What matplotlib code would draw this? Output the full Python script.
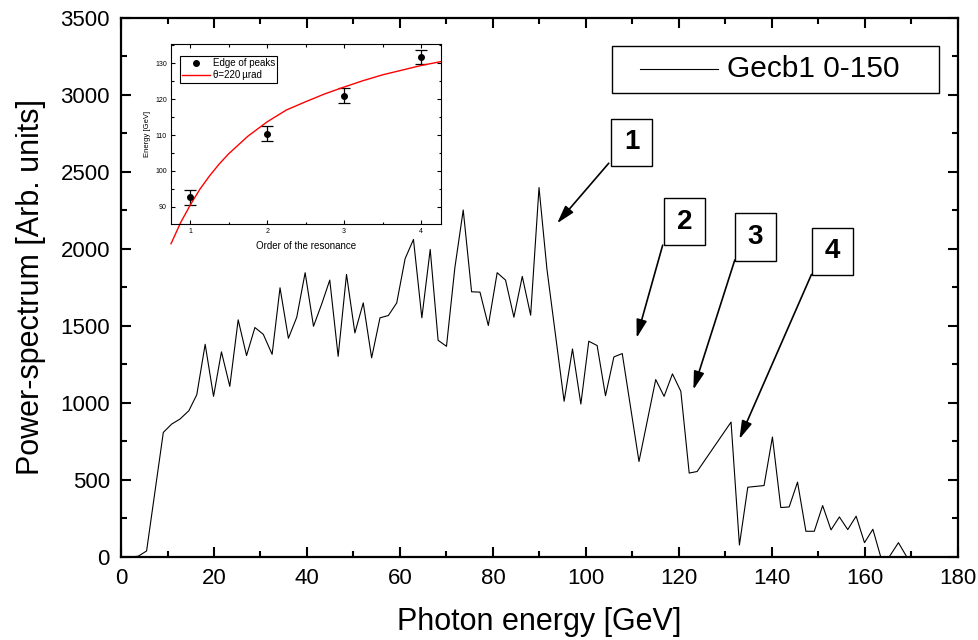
import matplotlib
matplotlib.use('Agg')
import matplotlib.pyplot as plt
from matplotlib.patches import Rectangle
from matplotlib.lines import Line2D
from matplotlib.ticker import MultipleLocator

plt.rcParams['font.family'] = ['Liberation Sans', 'DejaVu Sans']

# main spectrum
energy = [0.1, 1.9, 3.7, 5.5, 9.1, 10.9, 12.7, 14.6, 16.3, 18.1, 19.9, 21.6, 23.4,
          25.2, 27.0, 28.8, 30.6, 32.5, 34.2, 36.0, 37.8, 39.6, 41.4, 43.2, 44.9,
          46.7, 48.5, 50.3, 52.1, 53.9, 55.7, 57.5, 59.3, 61.1, 62.9, 64.7, 66.5,
          68.2, 70.0, 71.8, 73.6, 75.4, 77.2, 79.0, 80.9, 82.7, 84.5, 86.3, 88.1,
          89.9, 91.6, 95.3, 97.1, 98.9, 100.6, 102.4, 104.2, 106.0, 107.8, 111.4,
          115.0, 116.8, 118.6, 120.4, 122.2, 123.9, 131.2, 133.0, 134.8, 138.3,
          140.1, 141.9, 143.7, 145.5, 147.3, 149.1, 150.9, 152.7, 154.5, 156.3,
          158.1, 159.9, 161.7, 163.4, 165.2, 167.2, 169.0]
power = [0, 0, 5, 39, 809, 863, 896, 950, 1054, 1381, 1043, 1332, 1108,
         1540, 1308, 1490, 1446, 1316, 1748, 1420, 1557, 1846, 1498, 1646, 1798,
         1303, 1835, 1455, 1650, 1293, 1553, 1568, 1650, 1937, 2062, 1553, 1997,
         1407, 1368, 1878, 2253, 1722, 1720, 1503, 1846, 1798, 1557, 1822, 1570,
         2399, 1870, 1011, 1351, 993, 1401, 1373, 1047, 1299, 1321, 620,
         1152, 1043, 1189, 1076, 545, 555, 876, 78, 453, 464,
         779, 321, 325, 486, 167, 167, 334, 176, 260, 178,
         265, 93, 180, 0, 0, 93, 0]

# inset: edge of peaks vs resonance order
order = [1, 2, 3, 4]
edge = [92.6, 110.4, 121.0, 131.8]
edge_err = [2.0, 2.0, 2.0, 2.0]
curve_n = [0.75, 0.875, 1.0, 1.125, 1.25, 1.375, 1.5, 1.75, 2.0, 2.25, 2.5, 2.75,
           3.0, 3.25, 3.5, 3.75, 4.0, 4.26]
curve_e = [79.7, 85.6, 90.5, 94.9, 98.6, 101.9, 104.8, 109.7, 113.7, 117.0, 119.3,
           121.5, 123.4, 125.2, 126.8, 128.1, 129.4, 130.5]

# numbered peak labels: (label, box centre, arrow tail, arrow tip)
labels = ['1', '2', '3', '4']
box_xy = [(109.8, 2694), (121.2, 2178), (136.4, 2078), (153.0, 1984)]
tails = [(104.9, 2557), (116.5, 2025), (132.0, 1928), (148.5, 1835)]
tips = [(93.8, 2167), (110.9, 1423), (123.1, 1087), (133.0, 766)]

fig = plt.figure(figsize=(9.79, 6.4), dpi=100)
ax = fig.add_axes([0.1236, 0.1297, 0.8549, 0.8422])

ax.plot(energy, power, color='black', lw=0.8)
ax.set_xlim(0, 180)
ax.set_ylim(0, 3500)
ax.xaxis.set_major_locator(MultipleLocator(20))
ax.xaxis.set_minor_locator(MultipleLocator(10))
ax.yaxis.set_major_locator(MultipleLocator(500))
ax.yaxis.set_minor_locator(MultipleLocator(250))
ax.tick_params(which='both', direction='in', top=True, right=True, width=1.5)
ax.tick_params(which='major', length=7.5, labelsize=16, pad=8)
ax.tick_params(which='minor', length=4)
for s in ax.spines.values():
    s.set_linewidth(1.6)
ax.set_xlabel('Photon energy [GeV]', fontsize=22, labelpad=13)
ax.set_ylabel('Power-spectrum [Arb. units]', fontsize=22, labelpad=10)

# legend box drawn by hand to get the wide left margin
ax.add_patch(Rectangle((0.5864, 0.8609), 0.3907, 0.0872, transform=ax.transAxes,
                       fill=False, edgecolor='black', lw=1.0))
ax.add_line(Line2D([0.6201, 0.7133], [0.9049, 0.9049], transform=ax.transAxes,
                   color='black', lw=0.8))
ax.text(0.7240, 0.9049, 'Gecb1 0-150', transform=ax.transAxes, fontsize=21.5,
        va='center', ha='left')

# numbered boxes with arrows
bw, bh = 8.8, 306
for lab, (cx, cy), tail, tip in zip(labels, box_xy, tails, tips):
    ax.add_patch(Rectangle((cx - bw / 2, cy - bh / 2), bw, bh, fill=False,
                           edgecolor='black', lw=1.0))
    ax.text(cx, cy, lab, fontsize=20, fontweight='bold', ha='center', va='center')
    ax.annotate('', xy=tip, xytext=tail,
                arrowprops=dict(arrowstyle='-|>,head_length=0.55,head_width=0.16',
                                color='black', lw=1.2, mutation_scale=20,
                                shrinkA=0, shrinkB=0))

# inset
ins = fig.add_axes([0.1747, 0.65, 0.2758, 0.28125])
ins.errorbar(order, edge, yerr=edge_err, fmt='o', color='black', ms=4,
             capsize=4, elinewidth=0.9, capthick=0.9)
ins.plot(curve_n, curve_e, color='red', lw=1.0, clip_on=False)
ins.set_xlim(0.75, 4.26)
ins.set_ylim(85.2, 135.4)
ins.xaxis.set_major_locator(MultipleLocator(1))
ins.xaxis.set_minor_locator(MultipleLocator(0.5))
ins.yaxis.set_major_locator(MultipleLocator(10))
ins.yaxis.set_minor_locator(MultipleLocator(5))
ins.tick_params(which='both', direction='in', top=True, right=True, width=0.8)
ins.tick_params(which='major', length=3, labelsize=5, pad=3)
ins.tick_params(which='minor', length=1.8)
ins.set_xlabel('Order of the resonance', fontsize=7, labelpad=4)
ins.set_ylabel('Energy [GeV]', fontsize=5.5, labelpad=3)
handles = [Line2D([], [], ls='none', marker='o', color='black', ms=4),
           Line2D([], [], color='red', lw=1.0)]
leg = ins.legend(handles, ['Edge of peaks', '\u03b8=220\u2009\u00b5rad'],
                 loc='upper left', bbox_to_anchor=(0.033, 0.933), fontsize=7,
                 frameon=True, fancybox=False, edgecolor='black', framealpha=1,
                 borderpad=0.25, labelspacing=0.2, handlelength=2.8,
                 handletextpad=0.3, borderaxespad=0)
leg.get_frame().set_linewidth(0.8)

fig.savefig('out.png', dpi=100)
